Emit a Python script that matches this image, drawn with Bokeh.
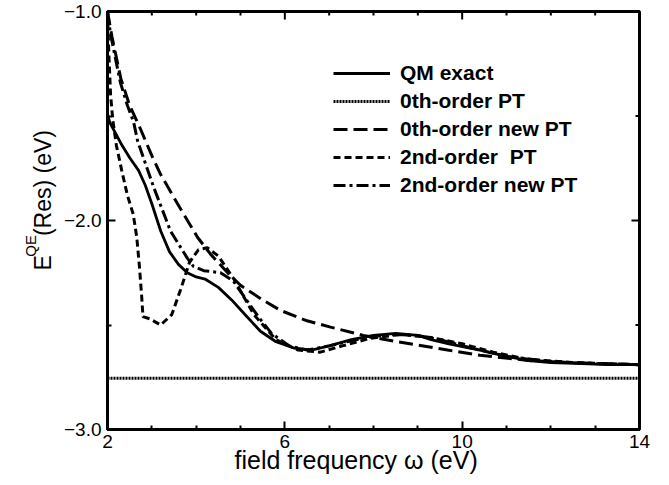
import math
from bokeh.plotting import figure
from bokeh.layouts import row
from bokeh.models import FixedTicker, Range1d, Legend, LegendItem, Label
from bokeh.embed import file_html
from bokeh.resources import INLINE

# ---- data ----
qm_x = [2.0, 2.05, 2.15, 2.3, 2.5, 2.7, 2.85, 3.0, 3.2, 3.4, 3.6, 3.8, 4.0, 4.2, 4.5, 4.8,
        5.1, 5.45, 5.8, 6.2, 6.6, 7.0, 7.5, 8.0, 8.5, 9.0, 9.3, 9.7, 10.4, 11.0, 11.5,
        12.0, 12.7, 13.3, 14.0]
qm_y = [-1.49, -1.53, -1.57, -1.63, -1.70, -1.76, -1.83, -1.92, -2.05, -2.15, -2.21, -2.25,
        -2.27, -2.28, -2.32, -2.38, -2.45, -2.53, -2.58, -2.61, -2.62, -2.60, -2.57, -2.55,
        -2.54, -2.55, -2.57, -2.59, -2.62, -2.65, -2.67, -2.68, -2.685, -2.69, -2.69]

pt0_x = [2.0, 14.0]
pt0_y = [-2.755, -2.755]

newpt0_x = [2.0, 2.1, 2.3, 2.5, 2.74, 3.0, 3.2, 3.58, 4.03, 4.32, 4.71, 5.0, 5.5, 5.9, 6.5,
            7.03, 7.77, 8.54, 9.67, 10.4, 11.5, 12.5, 14.0]
newpt0_y = [-1.0, -1.12, -1.32, -1.45, -1.56, -1.69, -1.78, -1.92, -2.08, -2.16, -2.25, -2.31,
            -2.38, -2.43, -2.48, -2.51, -2.55, -2.58, -2.62, -2.645, -2.67, -2.68, -2.69]

pt2_x = [2.0, 2.03, 2.07, 2.12, 2.2, 2.32, 2.45, 2.58, 2.66, 2.72, 2.77, 2.8, 2.95, 3.2,
         3.45, 3.65, 3.85, 4.05, 4.25, 4.5, 4.85, 5.3, 5.8, 6.3, 6.8, 7.3, 7.9, 8.6, 9.3,
         10.0, 10.7, 11.5, 12.5, 14.0]
pt2_y = [-1.0, -1.2, -1.4, -1.52, -1.64, -1.76, -1.88, -1.97, -2.08, -2.22, -2.36, -2.46,
         -2.47, -2.50, -2.45, -2.33, -2.20, -2.14, -2.13, -2.17, -2.28, -2.45, -2.57, -2.62,
         -2.63, -2.60, -2.565, -2.545, -2.56, -2.59, -2.63, -2.665, -2.68, -2.69]

newpt2_x = [2.0, 2.07, 2.29, 2.45, 2.59, 2.68, 3.04, 3.42, 3.8, 3.94, 4.17, 4.55, 4.84, 5.1,
            5.4, 5.7, 6.1, 6.5, 7.0, 7.5, 8.0, 8.5, 9.0, 9.5, 10.2, 11.0, 12.0, 13.0, 14.0]
newpt2_y = [-1.0, -1.11, -1.34, -1.45, -1.53, -1.62, -1.84, -2.05, -2.18, -2.22, -2.24,
            -2.25, -2.29, -2.37, -2.46, -2.54, -2.60, -2.62, -2.60, -2.575, -2.555, -2.545,
            -2.55, -2.57, -2.61, -2.65, -2.675, -2.685, -2.69]

x_min, x_max = 2, 14
y_min, y_max = -3.0, -1.0
x_ticks = [2, 6, 10, 14]
x_minor = [3, 4, 5, 7, 8, 9, 11, 12, 13]
y_ticks = [-3.0, -2.0, -1.0]
y_minor = [-2.5, -1.5]
y_tick_labels = {-3.0: "\u22123.0", -2.0: "\u22122.0", -1.0: "\u22121.0"}

series_labels = ["QM exact", "0th-order PT", "0th-order new PT", "2nd-order  PT",
                 "2nd-order new PT"]
x_title = "field frequency \u03c9 (eV)"
y_title_parts = ["E", "QE", "(Res) (eV)"]

FONT = "Liberation Sans"
W, H = 668, 484
WL = 60          # width of the strip that carries the rotated y title
FRAME_LEFT = 107  # frame left edge on the page

# ---------------- main plot ----------------
p = figure(width=W - WL, height=H, output_backend="svg", toolbar_location=None,
           x_range=Range1d(x_min, x_max), y_range=Range1d(y_min, y_max),
           min_border_left=FRAME_LEFT - WL, min_border_right=29, min_border_top=11,
           min_border_bottom=55,
           background_fill_color="white", border_fill_color="white")
p.grid.visible = False
p.outline_line_color = "black"
p.outline_line_width = 3

for ax, ticks, minor in ((p.xaxis[0], x_ticks, x_minor), (p.yaxis[0], y_ticks, y_minor)):
    ax.ticker = FixedTicker(ticks=ticks, minor_ticks=minor)
    ax.axis_line_width = 3
    ax.axis_line_color = "black"
    ax.major_tick_in = 8
    ax.major_tick_out = 0
    ax.minor_tick_in = 4
    ax.minor_tick_out = 0
    ax.major_tick_line_width = 2
    ax.minor_tick_line_width = 2
    ax.major_label_text_font = FONT
    ax.major_label_text_font_size = "19px"
    ax.major_label_text_color = "black"

p.yaxis[0].major_label_overrides = y_tick_labels
p.yaxis[0].major_label_standoff = 6
p.xaxis[0].major_label_standoff = 5
# trailing no-break spaces shift the centred title slightly left, as in the reference
p.xaxis[0].axis_label = x_title + "\u00a0" * 5
p.xaxis[0].axis_label_text_font = FONT
p.xaxis[0].axis_label_text_font_size = "25px"
p.xaxis[0].axis_label_text_font_style = "normal"
p.xaxis[0].axis_label_text_color = "black"
p.xaxis[0].axis_label_standoff = -5

# mirrored ticks on top and right edges (inward)
p.ray(x=x_ticks, y=[y_max] * len(x_ticks), length=8, length_units="screen",
      angle=-math.pi / 2, line_color="black", line_width=2)
p.ray(x=x_minor, y=[y_max] * len(x_minor), length=4, length_units="screen",
      angle=-math.pi / 2, line_color="black", line_width=2)
p.ray(x=[x_max] * len(y_ticks), y=y_ticks, length=8, length_units="screen",
      angle=math.pi, line_color="black", line_width=2)
p.ray(x=[x_max] * len(y_minor), y=y_minor, length=4, length_units="screen",
      angle=math.pi, line_color="black", line_width=2)

r_qm = p.line(qm_x, qm_y, line_color="black", line_width=2.8)
r_pt0 = p.line(pt0_x, pt0_y, line_color="black", line_width=3, line_dash="2 1")
r_npt0 = p.line(newpt0_x, newpt0_y, line_color="black", line_width=3, line_dash="14 6")
r_pt2 = p.line(pt2_x, pt2_y, line_color="black", line_width=3, line_dash="7 4")
r_npt2 = p.line(newpt2_x, newpt2_y, line_color="black", line_width=3, line_dash="12 4 3 4")

renderers = [r_qm, r_pt0, r_npt0, r_pt2, r_npt2]
legend = Legend(items=[LegendItem(label=l, renderers=[r]) for l, r in zip(series_labels, renderers)],
                location=(226, 232))
legend.border_line_color = None
legend.background_fill_alpha = 0
legend.padding = 0
legend.margin = 0
legend.spacing = 4
legend.glyph_width = 57
legend.glyph_height = 20
legend.label_height = 20
legend.label_standoff = 10
legend.label_text_font = FONT
legend.label_text_font_style = "bold"
legend.label_text_font_size = "21px"
legend.label_text_color = "black"
legend.label_text_baseline = "middle"
p.add_layout(legend, "center")

# ---------------- y-axis title strip ----------------
t = figure(width=WL, height=H, output_backend="svg", toolbar_location=None,
           x_range=Range1d(0, WL), y_range=Range1d(0, H),
           x_axis_location=None, y_axis_location=None,
           min_border=0, outline_line_color=None,
           background_fill_color="white", border_fill_color="white")
t.grid.visible = False
# positions in strip pixels (y measured from the strip's bottom)
for txt, lx, ly, fs in ((y_title_parts[0], 42, H - 300, "23px"),
                        (y_title_parts[1], 30, H - 284, "15px"),
                        (y_title_parts[2], 42, H - 260, "23px")):
    t.add_layout(Label(x=lx, y=ly, text=txt, angle=math.pi / 2, text_font=FONT,
                       text_font_size=fs, text_align="left", text_baseline="alphabetic",
                       text_color="black"))

layout = row(t, p)
open("out.html", "w").write(file_html(layout, INLINE))
